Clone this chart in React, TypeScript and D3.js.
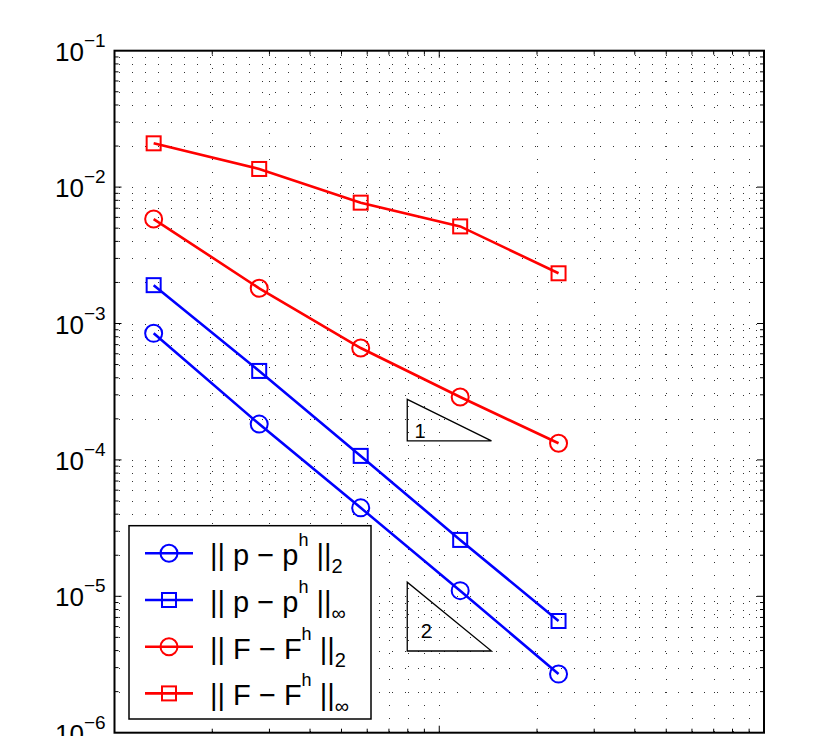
import React from "react";
import * as d3 from "d3";

const W = 838;
const H = 736;

// Mesh parameter values along the horizontal axis
const meshSizes = [1.32, 2.79, 5.73, 11.6, 23.3];

// Error norms for each mesh
const pL2 = [8.47e-4, 1.83e-4, 4.45e-5, 1.1e-5, 2.69e-6];
const pInf = [1.91e-3, 4.49e-4, 1.07e-4, 2.59e-5, 6.59e-6];
const fL2 = [5.83e-3, 1.811e-3, 6.61e-4, 2.89e-4, 1.324e-4];
const fInf = [2.094e-2, 1.358e-2, 7.69e-3, 5.15e-3, 2.334e-3];

const yTickExponents = [-1, -2, -3, -4, -5, -6];

const seriesColors = ["#0000ff", "#0000ff", "#ff0000", "#ff0000"];
const seriesMarkers = ["circle", "square", "circle", "square"];
const legendMain = ["|| p \u2212 p", "|| p \u2212 p", "|| F \u2212 F", "|| F \u2212 F"];
const legendSup = ["h", "h", "h", "h"];
const legendSub = ["2", "\u221e", "2", "\u221e"];

// Reference slope triangles (corner x, right x, bottom y, top y, label)
const triX0 = [7.97, 7.97];
const triX1 = [14.48, 14.48];
const triYLow = [1.377e-4, 3.97e-6];
const triYHigh = [2.78e-4, 1.268e-5];
const triLabels = ["1", "2"];

const FONT = "'Liberation Sans', Arial, Helvetica, sans-serif";

export default function App() {
  const left = 114.5;
  const right = 764;
  const top = 50.7;
  const bottom = 732.7;

  const x = d3.scaleLog().domain([1, 100]).range([left, right]);
  const y = d3.scaleLog().domain([1e-6, 1e-1]).range([bottom, top]);

  const series = [pL2, pInf, fL2, fInf];

  const xMinor: number[] = [];
  for (const dec of [1, 10]) for (let d = 2; d <= 9; d++) xMinor.push(d * dec);
  const xMajor = [10];
  const yMinor: number[] = [];
  for (let e = -6; e < -1; e++) for (let d = 2; d <= 9; d++) yMinor.push(d * Math.pow(10, e));
  const yMajor = [1e-5, 1e-4, 1e-3, 1e-2];

  const snap = (v: number) => Math.round(v) + 0.5;

  const line = d3
    .line<number>()
    .x((_, i) => x(meshSizes[i]))
    .y((d) => y(d));

  const marker = (kind: string, cx: number, cy: number, color: string, key: string) =>
    kind === "circle" ? (
      <circle key={key} cx={cx} cy={cy} r={8.5} fill="none" stroke={color} strokeWidth={2} />
    ) : (
      <rect key={key} x={cx - 7} y={cy - 7} width={14} height={14} fill="none" stroke={color} strokeWidth={2} />
    );

  const legX = 129;
  const legY = 525.7;
  const legW = 242;
  const legH = 193.3;
  const rowY = (i: number) => legY + 27.6 + i * 46.7;

  return (
    <svg
      width={W}
      height={H}
      style={{ position: "fixed", left: 0, top: 0, background: "#fff" }}
      fontFamily={FONT}
    >
      <rect x={0} y={0} width={W} height={H} fill="#fff" />

      {/* dotted grid */}
      <g stroke="#333" strokeWidth={1} strokeDasharray="1 12" shapeRendering="crispEdges">
        {[...xMinor, ...xMajor].map((v, i) => (
          <line key={`gx${i}`} x1={snap(x(v))} x2={snap(x(v))} y1={top + 4} y2={bottom} />
        ))}
        {[...yMinor, ...yMajor].map((v, i) => (
          <line key={`gy${i}`} x1={left + 4} x2={right} y1={snap(y(v))} y2={snap(y(v))} />
        ))}
      </g>

      {/* tick marks */}
      <g stroke="#000" strokeWidth={1}>
        {xMinor.map((v, i) => (
          <g key={`tx${i}`}>
            <line x1={x(v)} x2={x(v)} y1={bottom} y2={bottom - 4} />
            <line x1={x(v)} x2={x(v)} y1={top} y2={top + 4} />
          </g>
        ))}
        {xMajor.map((v, i) => (
          <g key={`txm${i}`}>
            <line x1={x(v)} x2={x(v)} y1={bottom} y2={bottom - 7} />
            <line x1={x(v)} x2={x(v)} y1={top} y2={top + 7} />
          </g>
        ))}
        {yMinor.map((v, i) => (
          <g key={`ty${i}`}>
            <line x1={left} x2={left + 4} y1={y(v)} y2={y(v)} />
            <line x1={right} x2={right - 4} y1={y(v)} y2={y(v)} />
          </g>
        ))}
        {yMajor.map((v, i) => (
          <g key={`tym${i}`}>
            <line x1={left} x2={left + 7} y1={y(v)} y2={y(v)} />
            <line x1={right} x2={right - 7} y1={y(v)} y2={y(v)} />
          </g>
        ))}
      </g>

      {/* y tick labels */}
      {yTickExponents.map((e) => {
        const ty = y(Math.pow(10, e));
        return (
          <g key={`yl${e}`} fill="#000">
            <text x={84} y={ty + 10} fontSize={26} textAnchor="end">
              10
            </text>
            <text x={84} y={ty - 4} fontSize={19}>
              {"\u2212" + Math.abs(e)}
            </text>
          </g>
        );
      })}

      {/* slope triangles */}
      {triLabels.map((lab, i) => {
        const x0 = x(triX0[i]);
        const x1 = x(triX1[i]);
        const yb = y(triYLow[i]);
        const yt = y(triYHigh[i]);
        return (
          <g key={`tri${i}`}>
            <path
              d={`M${x0},${yt}L${x0},${yb}L${x1},${yb}Z`}
              fill="none"
              stroke="#000"
              strokeWidth={1.3}
            />
            <text
              x={x0 + (i === 0 ? 12.7 : 19)}
              y={yb - (i === 0 ? 2.7 : 13.3)}
              fontSize={20}
              textAnchor="middle"
            >
              {lab}
            </text>
          </g>
        );
      })}

      {/* series */}
      {series.map((vals, s) => (
        <g key={`s${s}`}>
          <path d={line(vals) || ""} fill="none" stroke={seriesColors[s]} strokeWidth={2.6} />
          {vals.map((v, i) => marker(seriesMarkers[s], x(meshSizes[i]), y(v), seriesColors[s], `m${s}-${i}`))}
        </g>
      ))}

      {/* axes box */}
      <rect x={left} y={top} width={right - left} height={bottom - top} fill="none" stroke="#000" strokeWidth={2} />

      {/* legend */}
      <g>
        <rect x={legX} y={legY} width={legW} height={legH} fill="#fff" stroke="#000" strokeWidth={1.5} />
        {legendMain.map((txt, i) => {
          const ry = rowY(i);
          return (
            <g key={`lg${i}`}>
              <line x1={145} x2={193} y1={ry} y2={ry} stroke={seriesColors[i]} strokeWidth={2.6} />
              {marker(seriesMarkers[i], 169, ry, seriesColors[i], `lm${i}`)}
              <text x={210} y={ry + 12} fontSize={29}>
                {txt}
                <tspan fontSize={18} dy={-19}>
                  {legendSup[i]}
                </tspan>
                <tspan dy={19}>{" ||"}</tspan>
                <tspan fontSize={20} dy={8}>
                  {legendSub[i]}
                </tspan>
              </text>
            </g>
          );
        })}
      </g>
    </svg>
  );
}
